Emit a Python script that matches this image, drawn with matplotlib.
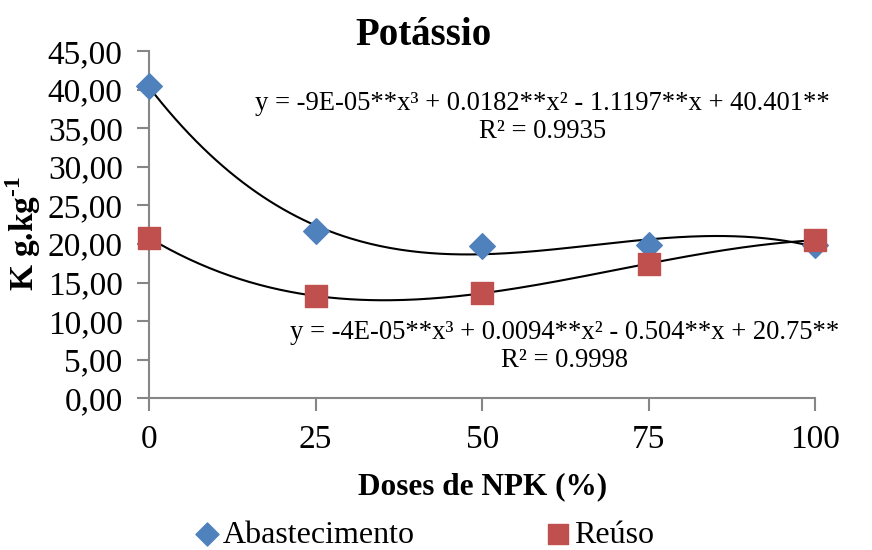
import numpy as np
import matplotlib
matplotlib.use('Agg')
from matplotlib import pyplot as plt
from matplotlib.ticker import FuncFormatter

# dados
doses = [0, 25, 50, 75, 100]
abastecimento = [40.5, 21.7, 19.7, 19.9, 19.8]
reuso = [20.8, 13.2, 13.7, 17.4, 20.5]
yticks = [0, 5, 10, 15, 20, 25, 30, 35, 40, 45]
eq_abast = 'y = -9E-05**x³ + 0.0182**x² - 1.1197**x + 40.401**\nR² = 0.9935'
eq_reuso = 'y = -4E-05**x³ + 0.0094**x² - 0.504**x + 20.75**\nR² = 0.9998'

plt.rcParams['font.family'] = ['Liberation Serif', 'DejaVu Serif']
plt.rcParams['mathtext.fontset'] = 'custom'
plt.rcParams['mathtext.rm'] = 'Liberation Serif:bold'
plt.rcParams['mathtext.bf'] = 'Liberation Serif:bold'

fig = plt.figure(figsize=(8.72, 5.5), dpi=100)
ax = fig.add_axes([0.171, 0.276, 0.764, 0.631])

azul = '#4F81BD'
vermelho = '#C0504D'

# linhas de tendencia (polinomial grau 3)
xs = np.linspace(0, 100, 200)
for serie in [abastecimento, reuso]:
    coef = np.polyfit(doses, serie, 3)
    ax.plot(xs, np.polyval(coef, xs), color='black', lw=1.5, zorder=2)

ax.scatter(doses, abastecimento, marker='D', s=170, color=azul, zorder=3,
           label='Abastecimento', clip_on=False)
ax.scatter(doses, reuso, marker='s', s=260, color=vermelho, zorder=3,
           label='Reúso', clip_on=False)

ax.set_xlim(0, 100)
ax.set_ylim(0, 45)
ax.set_xticks(doses)
ax.set_yticks(yticks)
ax.yaxis.set_major_formatter(FuncFormatter(lambda v, p: ('%.2f' % v).replace('.', ',')))

for s in ['top', 'right']:
    ax.spines[s].set_visible(False)
for s in ['left', 'bottom']:
    ax.spines[s].set_color('#868686')
    ax.spines[s].set_linewidth(1.5)
ax.tick_params(axis='both', colors='#868686', length=9, width=1.5,
               labelsize=24, labelcolor='black')
ax.tick_params(axis='x', pad=10)
ax.tick_params(axis='y', pad=10)

# titulo centrado como no original
fig.text(0.486, 0.936, 'Potássio', fontsize=28, fontweight='bold',
         ha='center', va='center')
ax.set_xlabel('Doses de NPK (%)', fontsize=22.5, fontweight='bold', labelpad=12)
ax.set_ylabel(r'K g.kg$^{\text{-}1}$', fontsize=24, fontweight='bold')
ax.yaxis.set_label_coords(-0.16, 0.475)

ax.text(59, 36.4, eq_abast, ha='center', va='center', fontsize=19.2,
        linespacing=1.15)
ax.text(62.3, 6.7, eq_reuso, ha='center', va='center', fontsize=19.2,
        linespacing=1.15)

fig.legend(loc='center', bbox_to_anchor=(0.479, 0.027), ncol=2,
           frameon=False, fontsize=23, handletextpad=-0.3, handlelength=1.6,
           columnspacing=3.7, markerscale=0.9)

plt.savefig('out.png', dpi=100)
